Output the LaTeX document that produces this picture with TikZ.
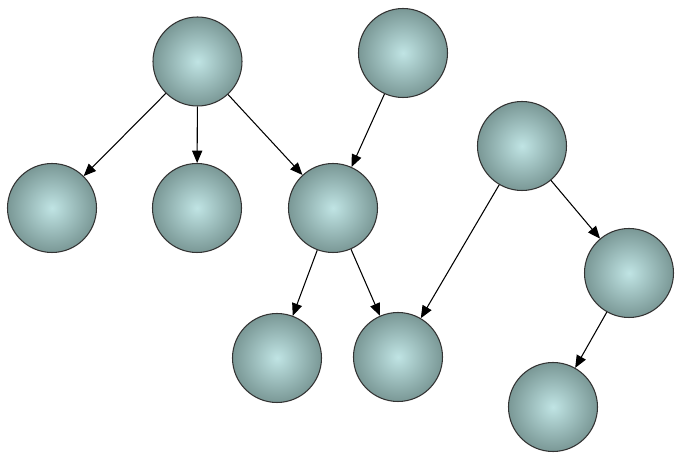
\documentclass[tikz,border=0pt]{standalone}
\usepackage{xcolor}
\usepackage{tikz}
\usetikzlibrary{shapes.geometric, arrows}
\definecolor{ballin}{RGB}{192,228,228}
\definecolor{ballout}{RGB}{122,152,150}
\tikzstyle{ball} = [circle, minimum size=1.78cm, inner sep=0pt, draw=black!80, line width=0.6pt, inner color=ballin, outer color=ballout]
\tikzstyle{arrow} = [line width=0.6pt,->,>=triangle 45]

\begin{document}
\begin{tikzpicture}[x=1cm,y=1cm]
            \useasboundingbox (0,0) rectangle (13.5,9.12);
            \node[ball] (A) at (3.95,7.89) {};
            \node[ball] (B) at (8.06,8.06) {};
            \node[ball] (C) at (1.04,4.96) {};
            \node[ball] (D) at (3.94,4.96) {};
            \node[ball] (E) at (6.66,4.96) {};
            \node[ball] (F) at (10.44,6.20) {};
            \node[ball] (G) at (12.58,3.66) {};
            \node[ball] (H) at (5.54,1.96) {};
            \node[ball] (I) at (7.96,1.98) {};
            \node[ball] (J) at (11.06,0.98) {};
            \draw [arrow] (A) -- (C);
            \draw [arrow] (A) -- (D);
            \draw [arrow] (A) -- (E);
            \draw [arrow] (B) -- (E);
            \draw [arrow] (E) -- (H);
            \draw [arrow] (E) -- (I);
            \draw [arrow] (F) -- (I);
            \draw [arrow] (F) -- (G);
            \draw [arrow] (G) -- (J);
        \end{tikzpicture}
\end{document}
